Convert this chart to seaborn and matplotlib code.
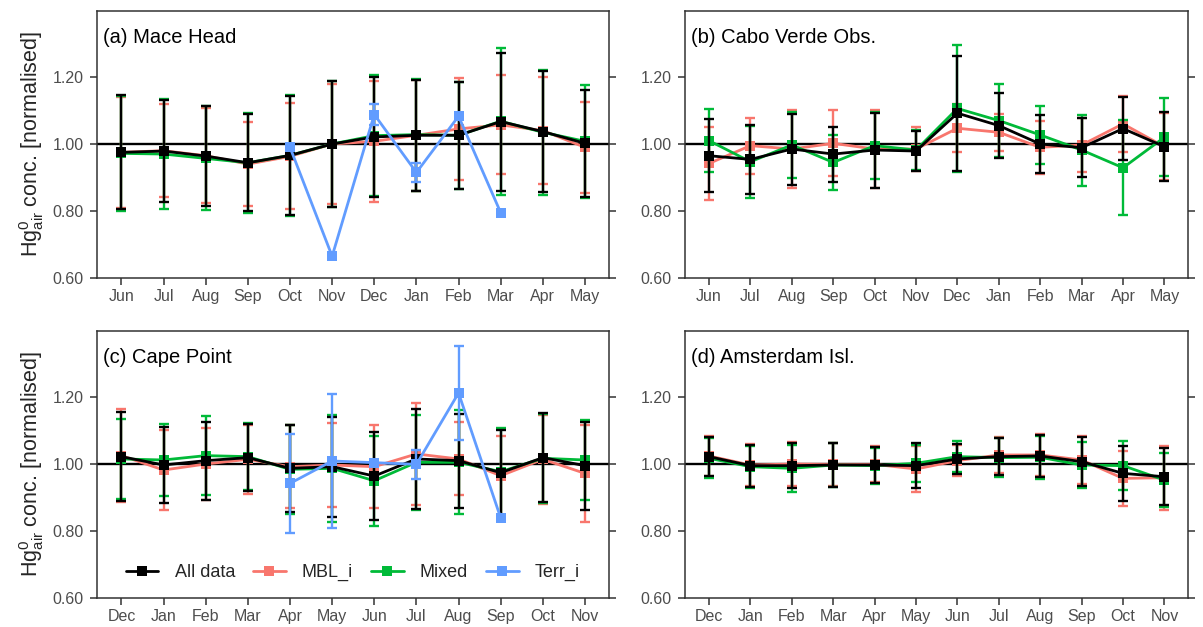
import numpy as np
import pandas as pd
import seaborn as sns
import matplotlib.pyplot as plt
from matplotlib.lines import Line2D
from matplotlib.ticker import FormatStrFormatter

# --- dados (medias normalizadas e desvio padrao) ---
months_nh = ['Jun', 'Jul', 'Aug', 'Sep', 'Oct', 'Nov', 'Dec', 'Jan', 'Feb', 'Mar', 'Apr', 'May']
months_sh = ['Dec', 'Jan', 'Feb', 'Mar', 'Apr', 'May', 'Jun', 'Jul', 'Aug', 'Sep', 'Oct', 'Nov']
nan = np.nan

# (a) Mace Head
mh_all = [0.975, 0.979, 0.964, 0.944, 0.966, 1.000, 1.021, 1.026, 1.026, 1.067, 1.037, 1.002]
mh_all_sd = [0.170, 0.153, 0.148, 0.145, 0.177, 0.188, 0.180, 0.165, 0.160, 0.206, 0.181, 0.160]
mh_mbl = [0.975, 0.980, 0.965, 0.940, 0.963, 1.000, 1.008, 1.026, 1.045, 1.057, 1.040, 0.990]
mh_mbl_sd = [0.165, 0.139, 0.141, 0.125, 0.158, 0.180, 0.180, 0.165, 0.152, 0.148, 0.159, 0.135]
mh_mix = [0.972, 0.970, 0.957, 0.944, 0.966, 1.000, 1.025, 1.028, 1.026, 1.068, 1.035, 1.008]
mh_mix_sd = [0.171, 0.164, 0.155, 0.150, 0.181, 0.188, 0.181, 0.167, 0.160, 0.219, 0.187, 0.169]
mh_ter = [nan, nan, nan, nan, 0.990, 0.665, 1.088, 0.915, 1.083, 0.795, nan, nan]
mh_ter_sd = [nan, nan, nan, nan, 0.0, 0.0, 0.030, 0.029, 0.0, 0.0, nan, nan]

# (b) Cabo Verde
cv_all = [0.965, 0.954, 0.985, 0.970, 0.982, 0.979, 1.092, 1.055, 1.000, 0.989, 1.046, 0.992]
cv_all_sd = [0.109, 0.102, 0.106, 0.082, 0.112, 0.061, 0.172, 0.098, 0.086, 0.088, 0.093, 0.103]
cv_mbl = [0.942, 0.995, 0.985, 1.002, 0.985, 0.985, 1.047, 1.035, 0.990, 0.997, 1.060, 0.992]
cv_mbl_sd = [0.110, 0.084, 0.115, 0.099, 0.117, 0.066, 0.071, 0.055, 0.079, 0.081, 0.083, 0.100]
cv_mix = [1.010, 0.947, 0.997, 0.945, 0.995, 0.982, 1.106, 1.070, 1.027, 0.982, 0.929, 1.020]
cv_mix_sd = [0.095, 0.108, 0.098, 0.082, 0.100, 0.061, 0.189, 0.108, 0.087, 0.106, 0.142, 0.117]

# (c) Cape Point
cp_all = [1.022, 0.997, 1.010, 1.019, 0.987, 0.992, 0.964, 1.015, 1.010, 0.974, 1.019, 0.995]
cp_all_sd = [0.132, 0.113, 0.116, 0.100, 0.130, 0.149, 0.132, 0.148, 0.140, 0.127, 0.132, 0.131]
cp_mbl = [1.025, 0.982, 1.000, 1.014, 0.992, 0.997, 0.992, 1.030, 1.015, 0.965, 1.014, 0.972]
cp_mbl_sd = [0.139, 0.119, 0.108, 0.103, 0.123, 0.126, 0.123, 0.151, 0.109, 0.119, 0.132, 0.144]
cp_mix = [1.015, 1.012, 1.025, 1.022, 0.984, 0.987, 0.950, 1.005, 1.005, 0.977, 1.017, 1.012]
cp_mix_sd = [0.120, 0.107, 0.118, 0.100, 0.132, 0.159, 0.134, 0.142, 0.155, 0.130, 0.132, 0.120]
cp_ter = [nan, nan, nan, nan, 0.942, 1.009, 1.004, 0.999, 1.212, 0.839, nan, nan]
cp_ter_sd = [nan, nan, nan, nan, 0.149, 0.199, 0.0, 0.044, 0.141, 0.0, nan, nan]

# (d) Amsterdam Isl.
am_all = [1.022, 0.995, 0.995, 0.997, 0.997, 0.995, 1.015, 1.022, 1.024, 1.007, 0.972, 0.962]
am_all_sd = [0.059, 0.063, 0.068, 0.065, 0.054, 0.068, 0.044, 0.056, 0.064, 0.073, 0.082, 0.085]
am_mbl = [1.024, 0.997, 1.000, 0.999, 0.999, 0.985, 1.010, 1.027, 1.027, 1.012, 0.957, 0.959]
am_mbl_sd = [0.060, 0.063, 0.066, 0.065, 0.054, 0.069, 0.046, 0.054, 0.064, 0.071, 0.083, 0.096]
am_mix = [1.017, 0.992, 0.987, 0.997, 0.995, 1.002, 1.022, 1.019, 1.020, 0.997, 0.995, 0.952]
am_mix_sd = [0.060, 0.063, 0.070, 0.065, 0.054, 0.056, 0.047, 0.058, 0.064, 0.068, 0.074, 0.080]

groups = ['All data', 'MBL_i', 'Mixed', 'Terr_i']
colors = {'All data': 'black', 'MBL_i': '#F8766D', 'Mixed': '#00BA38', 'Terr_i': '#619CFF'}
draw_order = {'MBL_i': 3, 'Mixed': 4, 'All data': 5, 'Terr_i': 6}

panels = [
    ('(a) Mace Head', months_nh, {'All data': (mh_all, mh_all_sd), 'MBL_i': (mh_mbl, mh_mbl_sd),
                                  'Mixed': (mh_mix, mh_mix_sd), 'Terr_i': (mh_ter, mh_ter_sd)}),
    ('(b) Cabo Verde Obs.', months_nh, {'All data': (cv_all, cv_all_sd), 'MBL_i': (cv_mbl, cv_mbl_sd),
                                        'Mixed': (cv_mix, cv_mix_sd)}),
    ('(c) Cape Point', months_sh, {'All data': (cp_all, cp_all_sd), 'MBL_i': (cp_mbl, cp_mbl_sd),
                                   'Mixed': (cp_mix, cp_mix_sd), 'Terr_i': (cp_ter, cp_ter_sd)}),
    ('(d) Amsterdam Isl.', months_sh, {'All data': (am_all, am_all_sd), 'MBL_i': (am_mbl, am_mbl_sd),
                                       'Mixed': (am_mix, am_mix_sd)}),
]

# tabela longa
rows = []
for title, months, series in panels:
    for g, (vals, sds) in series.items():
        for i, (v, s) in enumerate(zip(vals, sds)):
            rows.append({'panel': title, 'pos': i, 'month': months[i], 'group': g, 'conc': v, 'sd': s})
df = pd.DataFrame(rows).dropna(subset=['conc'])

sns.set_theme(style='ticks')
plt.rcParams['font.family'] = ['Liberation Sans', 'DejaVu Sans']
plt.rcParams['mathtext.fontset'] = 'custom'
plt.rcParams['mathtext.rm'] = 'Liberation Sans'
plt.rcParams['mathtext.it'] = 'Liberation Sans'

fig = plt.figure(figsize=(12.03, 6.27), dpi=100)
W, H = 1203, 627
boxes = [(97, 11, 609, 278), (685, 11, 1188, 278), (97, 331, 609, 598), (685, 331, 1188, 598)]

for k, ((title, months, series), (x0, y0, x1, y1)) in enumerate(zip(panels, boxes)):
    ax = fig.add_axes([x0 / W, 1 - y1 / H, (x1 - x0) / W, (y1 - y0) / H])
    ax.axhline(1.0, color='black', lw=1.7, zorder=2)
    d = df[df['panel'] == title]
    for g in sorted(series.keys(), key=lambda g: draw_order[g]):
        sub = d[d['group'] == g]
        eb = sub[sub['sd'] > 0]
        ax.errorbar(eb['pos'], eb['conc'], yerr=eb['sd'], fmt='none', ecolor=colors[g],
                    elinewidth=1.7, capsize=3.3, capthick=1.7, zorder=draw_order[g])
        sns.lineplot(data=sub, x='pos', y='conc', color=colors[g], marker='s', markersize=7,
                     markeredgewidth=0, linewidth=2.0, errorbar=None, ax=ax, zorder=draw_order[g])

    ax.set_xlim(-0.58, 11.57)
    ax.set_ylim(0.6, 1.397)
    ax.set_xticks(range(12))
    ax.set_xticklabels(months)
    ax.set_yticks([0.6, 0.8, 1.0, 1.2])
    ax.yaxis.set_major_formatter(FormatStrFormatter('%.2f'))
    ax.tick_params(axis='both', length=5, width=1.1, color='#333333', labelcolor='#4D4D4D',
                   labelsize=11.5)
    ax.tick_params(axis='y', right=True, labelright=False, pad=4.5)
    ax.tick_params(axis='x', pad=3)
    for sp in ax.spines.values():
        sp.set_visible(True)
        sp.set_color('#333333')
        sp.set_linewidth(1.1)
    ax.set_xlabel('')
    if k % 2 == 0:
        ax.set_ylabel(r'Hg$^{0}_{\mathrm{air}}$ conc. [normalised]', fontsize=15.5, labelpad=5)
    else:
        ax.set_ylabel('')
    ax.text(0.011, 0.935, title, transform=ax.transAxes, ha='left', va='top', fontsize=14.5,
            color='black')

    if k == 2:
        handles = [Line2D([0], [0], color=colors[g], lw=2.0, marker='s', markersize=7,
                          markeredgewidth=0) for g in groups]
        ax.legend(handles, groups, loc='center', bbox_to_anchor=(0.5, 0.095), ncol=4,
                  frameon=False, fontsize=13, handlelength=1.8, handletextpad=0.9,
                  columnspacing=1.0)

fig.savefig('out.png', dpi=100)
